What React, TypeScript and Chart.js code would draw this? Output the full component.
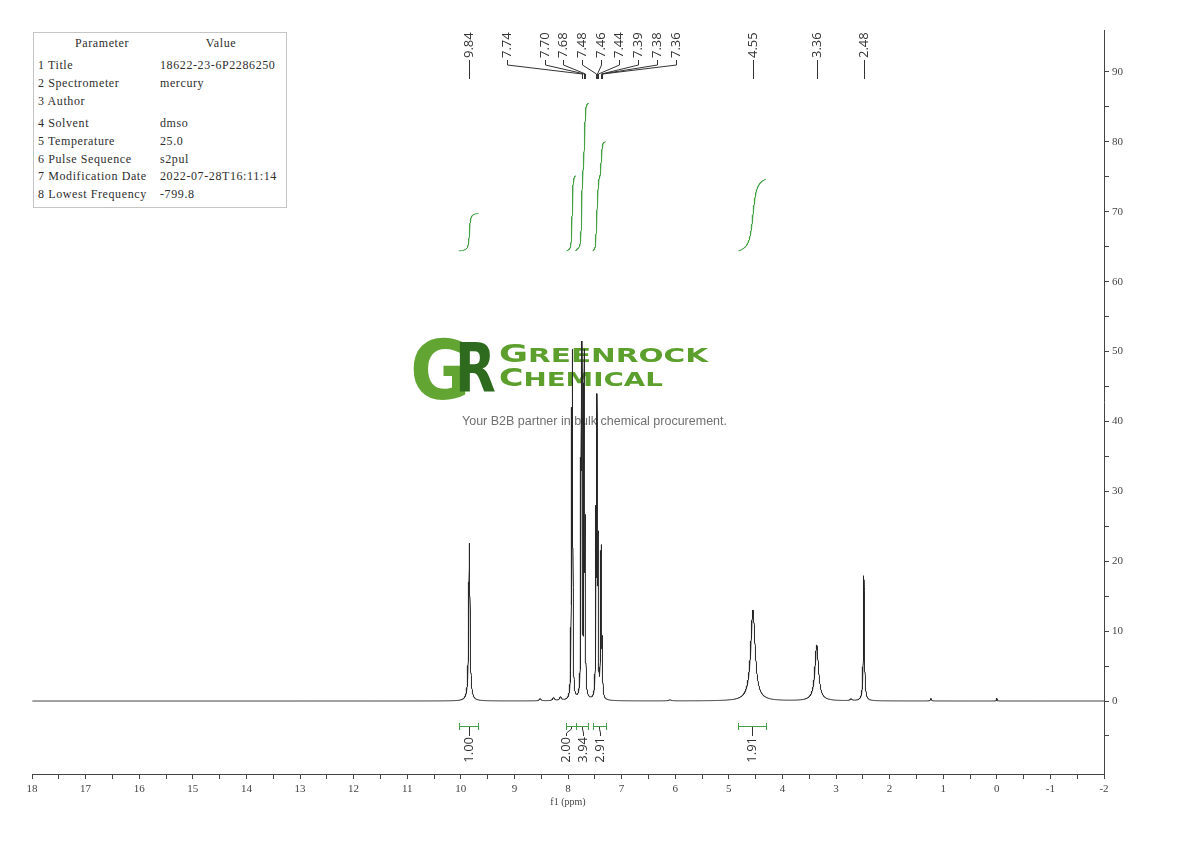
import { useEffect, useRef } from 'react';
import { Chart, registerables } from 'chart.js';

Chart.register(...registerables);

// ---- Spectrum: resolved lines (chemical shift in ppm, height, half width at half height in ppm)
const peakShifts = [9.84, 8.52, 8.27, 8.14, 7.935, 7.915, 7.755, 7.74, 7.70, 7.68, 7.48, 7.46, 7.44, 7.39, 7.38, 7.36, 6.1, 4.55, 3.36, 2.72, 2.48, 1.23, 0.0];
const peakHeights = [22.6, 0.3, 0.45, 0.5, 38, 47, 37, 45, 47, 22, 24, 40, 20, 16, 17, 7, 0.15, 13.0, 8.0, 0.25, 17.9, 0.35, 0.4];
const peakHalfWidths = [0.014, 0.02, 0.02, 0.02, 0.006, 0.006, 0.006, 0.006, 0.006, 0.006, 0.006, 0.006, 0.006, 0.006, 0.006, 0.006, 0.03, 0.05, 0.04, 0.02, 0.011, 0.012, 0.006];

// ---- Peak picking labels (ppm) and where each label sits along the axis (ppm)
const pickedPeaks = [9.84, 7.74, 7.70, 7.68, 7.48, 7.46, 7.44, 7.39, 7.38, 7.36, 4.55, 3.36, 2.48];
const pickedLabelSlots = [9.84, 9.138, 8.429, 8.093, 7.739, 7.384, 7.049, 6.694, 6.340, 5.985, 4.55, 3.36, 2.48];

// ---- Integrals: region start / end (ppm), integral value, label slot (ppm)
const integralStart = [10.04, 8.03, 7.86, 7.54, 4.82];
const integralEnd = [9.67, 7.86, 7.62, 7.30, 4.31];
const integralValues = [1.0, 2.0, 3.94, 2.91, 1.91];
const integralLabelSlots = [9.855, 8.04, 7.72, 7.40, 4.565];
const integralBase = 64.4;
const integralPerProton = 5.37;

// ---- Axes
const ppmMin = -2;
const ppmMax = 18;
const intensityMin = -10.44;
const intensityMax = 96;

// ---- Acquisition parameters
const parameterNames = ['Title', 'Spectrometer', 'Author', 'Solvent', 'Temperature', 'Pulse Sequence', 'Modification Date', 'Lowest Frequency'];
const parameterValues = ['18622-23-6P2286250', 'mercury', '', 'dmso', '25.0', 's2pul', '2022-07-28T16:11:14', '-799.8'];

const GREEN = '#45a045';
const INK = '#333333';

function intensityAt(ppm: number): number {
  let s = 0;
  for (let i = 0; i < peakShifts.length; i++) {
    const d = (ppm - peakShifts[i]) / peakHalfWidths[i];
    s += peakHeights[i] / (1 + d * d);
  }
  return s;
}

function buildSpectrum() {
  const xs: number[] = [];
  const step = 0.002;
  const n = Math.round((ppmMax - ppmMin) / step);
  for (let i = 0; i <= n; i++) xs.push(ppmMin + i * step);
  for (const p of peakShifts) xs.push(p);
  xs.sort((a, b) => a - b);
  return xs.map((x) => ({ x, y: intensityAt(x) }));
}

// cumulative area of all lines between `from` and `x` (analytic Lorentzian integral)
function areaBetween(from: number, x: number): number {
  let s = 0;
  for (let i = 0; i < peakShifts.length; i++) {
    const w = peakHalfWidths[i];
    s += peakHeights[i] * w * (Math.atan((from - peakShifts[i]) / w) - Math.atan((x - peakShifts[i]) / w));
  }
  return s;
}

function buildIntegral(k: number) {
  const hi = integralStart[k];
  const lo = integralEnd[k];
  const total = areaBetween(hi, lo);
  const rise = integralValues[k] * integralPerProton;
  const pts: { x: number; y: number }[] = [];
  const n = 240;
  for (let i = 0; i <= n; i++) {
    const x = hi - ((hi - lo) * i) / n;
    pts.push({ x, y: integralBase + (areaBetween(hi, x) / total) * rise });
  }
  return pts.reverse();
}

function drawSmallCaps(ctx: CanvasRenderingContext2D, word: string, x: number, baseline: number, width: number, big: number, small: number, color: string) {
  const bigFont = `bold ${big}px "DejaVu Sans"`;
  const smallFont = `bold ${small}px "DejaVu Sans"`;
  ctx.font = bigFont;
  const w1 = ctx.measureText(word[0]).width;
  ctx.font = smallFont;
  const w2 = ctx.measureText(word.slice(1)).width;
  ctx.save();
  ctx.translate(x, baseline);
  ctx.scale(width / (w1 + w2), 1);
  ctx.fillStyle = color;
  ctx.textAlign = 'left';
  ctx.textBaseline = 'alphabetic';
  ctx.font = bigFont;
  ctx.fillText(word[0], 0, 0);
  ctx.font = smallFont;
  ctx.fillText(word.slice(1), w1, 0);
  ctx.restore();
}

function drawWatermark(ctx: CanvasRenderingContext2D) {
  ctx.save();
  ctx.textAlign = 'left';
  ctx.textBaseline = 'alphabetic';
  ctx.font = 'bold 82px "DejaVu Sans"';
  ctx.fillStyle = '#63a532';
  ctx.save();
  ctx.translate(410, 399);
  ctx.scale(0.9, 1);
  ctx.fillText('G', 0, 0);
  ctx.restore();
  ctx.font = 'bold 68px "DejaVu Sans"';
  ctx.fillStyle = '#2f6b1f';
  ctx.save();
  ctx.translate(455, 392);
  ctx.scale(0.78, 1);
  ctx.fillText('R', 0, 0);
  ctx.restore();
  drawSmallCaps(ctx, 'GREENROCK', 499, 362, 209, 24, 20, '#5c9f2c');
  drawSmallCaps(ctx, 'CHEMICAL', 499, 386, 164, 24, 20, '#5c9f2c');
  ctx.font = '12.5px "Liberation Sans"';
  ctx.fillStyle = '#707070';
  ctx.textAlign = 'center';
  ctx.fillText('Your B2B partner in bulk chemical procurement.', 594.5, 425);
  ctx.restore();
}

function crisp(v: number) {
  return Math.round(v) + 0.5;
}

function verticalText(ctx: CanvasRenderingContext2D, text: string, x: number, y: number, align: CanvasTextAlign) {
  ctx.save();
  ctx.translate(x, y);
  ctx.rotate(-Math.PI / 2);
  ctx.textAlign = align;
  ctx.textBaseline = 'middle';
  ctx.fillText(text, 0, 0);
  ctx.restore();
}

const nmrAnnotations = {
  id: 'nmrAnnotations',
  beforeDatasetsDraw(chart: any) {
    drawWatermark(chart.ctx);
  },
  afterDatasetsDraw(chart: any) {
    const ctx: CanvasRenderingContext2D = chart.ctx;
    const xs = chart.scales.x;
    ctx.save();
    ctx.lineWidth = 1;
    ctx.font = '13px "Open Sans"';
    ctx.fillStyle = INK;
    ctx.strokeStyle = INK;

    // peak labels along the top
    pickedPeaks.forEach((p, i) => {
      const px = crisp(xs.getPixelForValue(p));
      const sx = crisp(xs.getPixelForValue(pickedLabelSlots[i]));
      verticalText(ctx, p.toFixed(2), sx, 58, 'left');
      ctx.beginPath();
      if (Math.abs(px - sx) < 1) {
        ctx.moveTo(px, 60);
        ctx.lineTo(px, 79);
      } else {
        ctx.moveTo(sx, 60);
        ctx.lineTo(sx, 65);
        ctx.lineTo(px, 74);
        ctx.lineTo(px, 79);
      }
      ctx.stroke();
    });

    // integral brackets and values
    integralValues.forEach((v, k) => {
      const a = xs.getPixelForValue(integralStart[k]);
      const b = xs.getPixelForValue(integralEnd[k]);
      const cx = crisp((a + b) / 2);
      const sx = crisp(xs.getPixelForValue(integralLabelSlots[k]));
      ctx.strokeStyle = GREEN;
      ctx.beginPath();
      ctx.moveTo(crisp(a), 726.5);
      ctx.lineTo(crisp(b), 726.5);
      ctx.moveTo(crisp(a), 723);
      ctx.lineTo(crisp(a), 730);
      ctx.moveTo(crisp(b), 723);
      ctx.lineTo(crisp(b), 730);
      ctx.stroke();
      ctx.strokeStyle = INK;
      ctx.beginPath();
      if (Math.abs(cx - sx) < 1) {
        ctx.moveTo(cx, 727);
        ctx.lineTo(cx, 736);
      } else {
        ctx.moveTo(cx, 727);
        ctx.lineTo(cx, 729);
        ctx.lineTo(sx, 733);
        ctx.lineTo(sx, 736);
      }
      ctx.stroke();
      verticalText(ctx, v.toFixed(2), sx, 737, 'right');
    });
    ctx.restore();
  },
};

const rowCenters = [32, 50, 68, 90, 108, 126, 143, 161];

export default function App() {
  const canvasRef = useRef<HTMLCanvasElement>(null);

  useEffect(() => {
    const canvas = canvasRef.current;
    if (!canvas) return;
    const integralSets = integralValues.map((_, k) => ({
      data: buildIntegral(k),
      borderColor: GREEN,
      borderWidth: 1,
      pointRadius: 0,
      tension: 0,
    }));
    const chart = new Chart(canvas, {
      type: 'line',
      data: {
        datasets: [
          {
            data: buildSpectrum(),
            borderColor: '#262626',
            borderWidth: 1,
            pointRadius: 0,
            tension: 0,
          },
          ...integralSets,
        ],
      },
      options: {
        responsive: false,
        animation: false,
        devicePixelRatio: 1,
        parsing: false,
        normalized: true,
        events: [],
        layout: { padding: { left: 32, top: 30, right: 46, bottom: 33 } },
        plugins: { legend: { display: false }, tooltip: { enabled: false } },
        scales: {
          x: {
            type: 'linear',
            reverse: true,
            min: ppmMin,
            max: ppmMax,
            border: { display: true, color: '#444', width: 1 },
            grid: { drawOnChartArea: false, drawTicks: true, tickLength: 5, color: '#444' },
            ticks: {
              stepSize: 0.5,
              autoSkip: false,
              maxRotation: 0,
              padding: 4,
              maxTicksLimit: 1000,
              color: '#444',
              font: { family: '"Liberation Serif"', size: 11 },
              callback: (v: any) => (Number.isInteger(v) ? String(v) : ''),
            },
            title: {
              display: true,
              text: 'f1 (ppm)',
              color: '#444',
              font: { family: '"Liberation Serif"', size: 10 },
              padding: 0,
            },
            afterFit: (s: any) => {
              s.height = 34;
            },
          },
          y: {
            type: 'linear',
            position: 'right',
            min: intensityMin,
            max: intensityMax,
            border: { display: true, color: '#444', width: 1 },
            grid: { drawOnChartArea: false, drawTicks: true, tickLength: 5, color: '#444' },
            ticks: {
              stepSize: 5,
              autoSkip: false,
              padding: 3,
              maxTicksLimit: 1000,
              color: '#444',
              font: { family: '"Liberation Serif"', size: 11 },
              callback: (v: any) => (Math.round(v) % 10 === 0 ? String(v) : ''),
            },
            afterBuildTicks: (s: any) => {
              s.ticks = s.ticks.filter(
                (t: any) => Math.abs(t.value / 5 - Math.round(t.value / 5)) < 1e-6 && t.value >= -5 && t.value <= 95
              );
            },
            afterFit: (s: any) => {
              s.width = 40;
            },
          },
        },
      },
      plugins: [nmrAnnotations],
    } as any);
    return () => chart.destroy();
  }, []);

  const cell = (center: number, left: number, text: string, centered = false) => (
    <div
      style={{
        position: 'absolute',
        top: center - 7,
        left,
        height: 14,
        lineHeight: '14px',
        whiteSpace: 'pre',
        transform: centered ? 'translateX(-50%)' : undefined,
      }}
    >
      {text}
    </div>
  );

  return (
    <div style={{ position: 'fixed', left: 0, top: 0, width: 1190, height: 841, background: '#fff', overflow: 'hidden' }}>
      <canvas ref={canvasRef} width={1190} height={841} style={{ position: 'absolute', left: 0, top: 0, width: 1190, height: 841 }} />
      <div
        style={{
          position: 'absolute',
          left: 33,
          top: 32,
          width: 254,
          height: 176,
          boxSizing: 'border-box',
          border: '1px solid #c4c4c4',
          background: '#fff',
          color: '#2e2e2e',
          fontFamily: '"Liberation Serif", serif',
          fontSize: '12px',
          letterSpacing: '0.6px',
        }}
      >
        {cell(10, 68, 'Parameter', true)}
        {cell(10, 187, 'Value', true)}
        {parameterNames.map((name, i) => (
          <div key={name}>
            {cell(rowCenters[i], 4, `${i + 1} ${name}`)}
            {cell(rowCenters[i], 126, parameterValues[i])}
          </div>
        ))}
      </div>
    </div>
  );
}
